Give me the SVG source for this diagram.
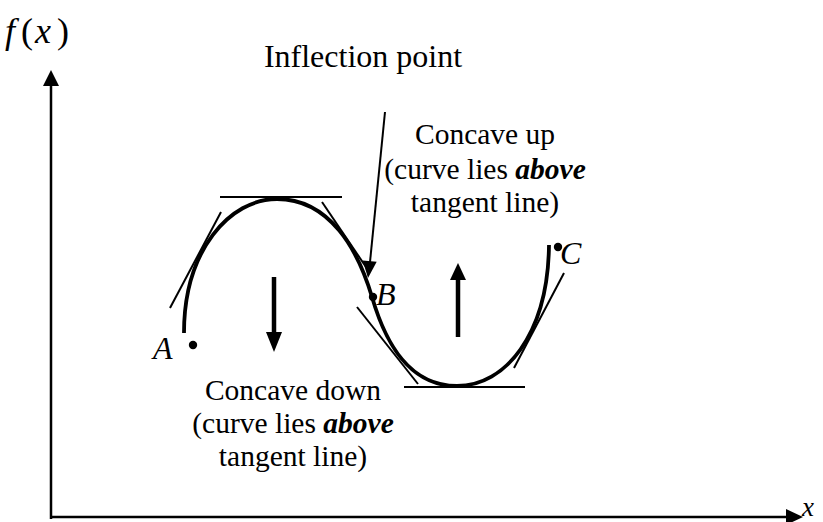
<svg xmlns="http://www.w3.org/2000/svg" width="823" height="522" viewBox="0 0 823 522">
<style>
text{font-family:"Liberation Serif","Times New Roman",serif;fill:#000}
.lbl{font-size:29.5px;text-anchor:middle}
.it{font-style:italic}
.ax{stroke:#000;stroke-width:2.5;fill:none}
.tan{stroke:#000;stroke-width:2;fill:none}
.curve{stroke:#000;stroke-width:3.8;fill:none;stroke-linecap:butt}
.dot{fill:#000}
.big{stroke:#000;stroke-width:4.5}
</style>
<rect width="823" height="522" fill="#fff"/>
<g id="axes">
<line class="ax" x1="51" y1="519" x2="51" y2="84"/>
<polygon points="51,70 43,86 59,86"/>
<line class="ax" x1="50" y1="517" x2="788" y2="517"/>
<polygon points="803,517 786,509 786,525"/>
<text x="5" y="43" font-size="36" class="it">f</text>
<text x="21" y="43" font-size="36">(</text>
<text x="35" y="43" font-size="36" class="it">x</text>
<text x="57" y="43" font-size="36">)</text>
<text x="802" y="516" font-size="27" class="it">x</text>
</g>
<g id="curve">
<path class="curve" d="M184,333 C184,250 230,199 277,199 C330,199 358,250 372,297 C386,345 410,386 457,386 C505,386 548,335 549,245"/>
</g>
<g id="tangents">
<line class="tan" x1="220" y1="197" x2="342" y2="197"/>
<line class="tan" x1="170" y1="308" x2="221" y2="212"/>
<line class="tan" x1="322" y1="202" x2="368" y2="270"/>
<line class="tan" x1="357" y1="307" x2="418" y2="384"/>
<line class="tan" x1="404" y1="387" x2="525" y2="387"/>
<line class="tan" x1="564" y1="273" x2="514" y2="368"/>
</g>
<g id="pointA">
<circle class="dot" cx="193" cy="345" r="4.2"/>
<text x="153" y="359" font-size="32" class="it">A</text>
</g>
<g id="pointB">
<circle class="dot" cx="373" cy="297" r="4.2"/>
<text x="376" y="305" font-size="32" class="it">B</text>
</g>
<g id="pointC">
<circle class="dot" cx="558" cy="247" r="4.2"/>
<text x="560" y="264" font-size="32" class="it">C</text>
</g>
<g id="inflection">
<text x="363" y="67" font-size="32" text-anchor="middle">Inflection point</text>
<line class="tan" x1="385" y1="112" x2="370" y2="262"/>
<polygon points="368,278 376.7,261.8 362.7,260.4"/>
</g>
<g id="concave-down">
<line class="big" x1="274" y1="277" x2="274" y2="334"/>
<polygon points="266,332 282,332 274,352"/>
<text class="lbl" x="293" y="400">Concave down</text>
<text class="lbl" x="293" y="433">(curve lies <tspan font-weight="bold" font-style="italic">above</tspan></text>
<text class="lbl" x="293" y="466">tangent line)</text>
</g>
<g id="concave-up">
<line class="big" x1="458" y1="337" x2="458" y2="278"/>
<polygon points="450,280 466,280 458,263"/>
<text class="lbl" x="485" y="144">Concave up</text>
<text class="lbl" x="485" y="179">(curve lies <tspan font-weight="bold" font-style="italic">above</tspan></text>
<text class="lbl" x="485" y="212">tangent line)</text>
</g>
</svg>
